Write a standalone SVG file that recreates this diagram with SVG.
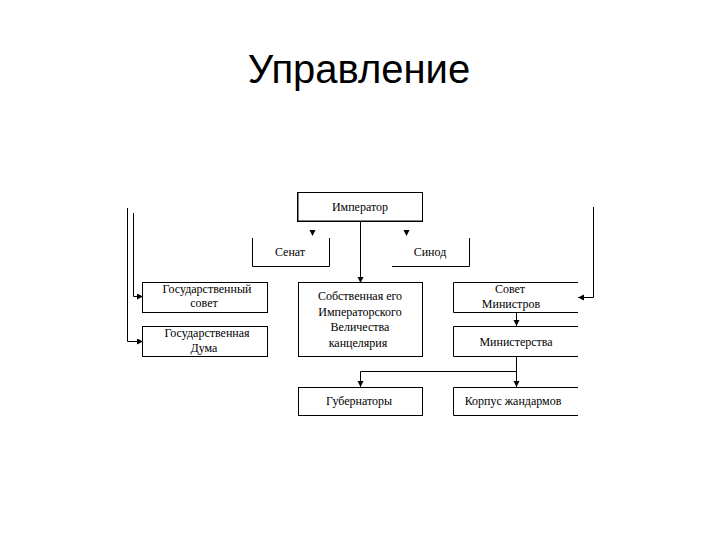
<svg xmlns="http://www.w3.org/2000/svg" width="720" height="540" viewBox="0 0 720 540">
<defs>
<style>
.box{fill:#fff;stroke:#000;stroke-width:1}
.open{fill:none;stroke:#000;stroke-width:1}
.ln{fill:none;stroke:#000;stroke-width:1}
.t{font-family:"Liberation Serif","Times New Roman",serif;font-size:12px;fill:#000;text-anchor:middle}
.title{font-family:"Liberation Sans",Arial,sans-serif;font-size:40px;fill:#000;text-anchor:middle}
</style>
<marker id="ah" markerUnits="userSpaceOnUse" markerWidth="7" markerHeight="7" refX="6" refY="3" orient="auto">
<path d="M0,0 L6,3 L0,6 z" fill="#000"/>
</marker>
</defs>
<rect width="720" height="540" fill="#fff"/>
<text class="title" x="359" y="83">Управление</text>

<g id="connectors">
<path class="ln" d="M360.5,221 V283" marker-end="url(#ah)"/>
<polygon points="309.5,230 315.5,230 312.5,236" fill="#000"/>
<polygon points="403.5,230 409.5,230 406.5,236" fill="#000"/>
<path class="ln" d="M127.5,208 V341.5 H143" marker-end="url(#ah)"/>
<path class="ln" d="M133.5,213 V296.5 H143" marker-end="url(#ah)"/>
<path class="ln" d="M593.5,207 V297.5 H578" marker-end="url(#ah)"/>
<path class="ln" d="M516.5,312.5 V326" marker-end="url(#ah)"/>
<path class="ln" d="M516.5,356.5 V387" marker-end="url(#ah)"/>
<path class="ln" d="M516.5,371.5 H360.5 V387" marker-end="url(#ah)"/>
</g>

<g id="imperator">
<rect class="box" x="297.5" y="192.5" width="125" height="29"/>
<path class="ln" d="M298,192 V221 H422" stroke-width="2"/>
<text class="t" x="360" y="211">Император</text>
</g>
<g id="senat">
<path class="open" d="M252.5,238 V266.5 H329.5 V238"/>
<text class="t" x="290" y="256">Сенат</text>
</g>
<g id="sinod">
<path class="open" d="M392,266.5 H469.5 V238"/>
<text class="t" x="430" y="256">Синод</text>
</g>
<g id="gossovet">
<rect class="box" x="142.5" y="282.5" width="125" height="30"/>
<text class="t" x="207" y="293">Государственный</text>
<text class="t" x="204" y="307">совет</text>
</g>
<g id="gosduma">
<rect class="box" x="142.5" y="326.5" width="125" height="30"/>
<text class="t" x="207" y="337">Государственная</text>
<text class="t" x="204" y="352">Дума</text>
</g>
<g id="kancelyariya">
<rect class="box" x="298.5" y="282.5" width="124" height="74"/>
<text class="t" x="360" y="300">Собственная его</text>
<text class="t" x="360" y="316">Императорского</text>
<text class="t" x="360" y="331">Величества</text>
<text class="t" x="358" y="347">канцелярия</text>
</g>
<g id="sovetministrov">
<path class="open" d="M578,282.5 H453.5 V312.5 H578"/>
<text class="t" x="510" y="293">Совет</text>
<text class="t" x="511" y="308">Министров</text>
</g>
<g id="ministerstva">
<path class="open" d="M578,326.5 H453.5 V356.5 H578"/>
<text class="t" x="516" y="346">Министерства</text>
</g>
<g id="gubernatory">
<rect class="box" x="298.5" y="387.5" width="124" height="28"/>
<text class="t" x="359" y="405">Губернаторы</text>
</g>
<g id="korpus">
<path class="open" d="M578,387.5 H453.5 V415.5 H578"/>
<text class="t" x="513" y="405">Корпус жандармов</text>
</g>
</svg>
